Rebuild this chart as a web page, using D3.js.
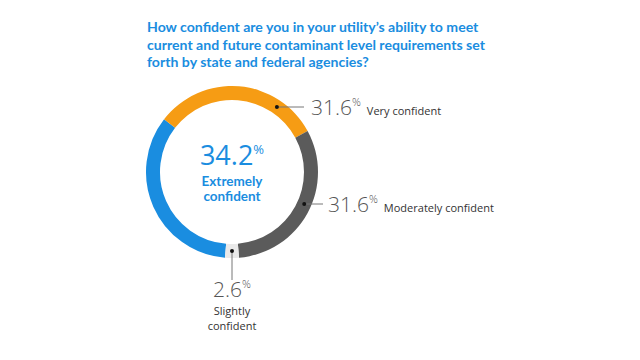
<!DOCTYPE html>
<html><head><meta charset="utf-8">
<script src="https://cdn.jsdelivr.net/npm/d3@7"></script>
<style>body{margin:0;background:#fff}</style>
</head><body>
<svg id="c" width="640" height="360"></svg>
<script>
const categories = ["Extremely confident", "Very confident", "Moderately confident", "Slightly confident"];
const values = [34.2, 31.6, 31.6, 2.6];
const valueLabels = ["34.2", "31.6", "31.6", "2.6"];
const colors = ["#1a8de0", "#f69c14", "#5b5b5b", "#e9e9e9"];
const titleLines = [
  "How confident are you in your utility\u2019s ability to meet",
  "current and future contaminant level requirements set",
  "forth by state and federal agencies?"
];

const svg = d3.select("#c");
const cx = 232, cy = 172, rOuter = 86, rInner = 72, rMid = (rOuter + rInner) / 2;

// title
const title = svg.append("text").attr("fill", "#1a8de0")
  .attr("font-family", "Lato, 'Open Sans', sans-serif").attr("font-weight", 700).attr("font-size", 14.1);
titleLines.forEach((t, i) => {
  title.append("tspan").attr("x", 147).attr("y", 32 + i * 17.5).text(t);
});

const total = d3.sum(values);
const slightFrac = values[3] / total;
const start = Math.PI + slightFrac * Math.PI; // centre the small slice at the bottom
const pie = d3.pie().sort(null).value(d => d).startAngle(start).endAngle(start + 2 * Math.PI);
const arcs = pie(values);
const arc = d3.arc().innerRadius(rInner).outerRadius(rOuter);
const g = svg.append("g").attr("transform", `translate(${cx},${cy})`);
g.selectAll("path").data(arcs).join("path").attr("d", arc).attr("fill", (d, i) => colors[i]);

// center label
const numFont = "'Open Sans', 'Noto Sans', sans-serif";
const catFont = "Lato, 'Open Sans', sans-serif";
const ct = svg.append("text").attr("x", cx).attr("y", 165).attr("text-anchor", "middle")
  .attr("fill", "#1a8de0").attr("font-family", numFont);
ct.append("tspan").attr("font-size", 27).attr("font-weight", 400).text(valueLabels[0]);
ct.append("tspan").attr("font-size", 13).attr("dy", -11).text("%");
const cl = svg.append("text").attr("text-anchor", "middle")
  .attr("fill", "#1a8de0").attr("font-family", catFont).attr("font-weight", 700).attr("font-size", 13.5);
["Extremely", "confident"].forEach((t, i) => {
  cl.append("tspan").attr("x", cx).attr("y", 185.5 + i * 15.5).text(t);
});

// right side labels
const rightLabels = [
  {i: 1, y: 107, lineEnd: 304, tx: 311},
  {i: 2, y: 204, lineEnd: 323, tx: 328}
];
rightLabels.forEach(L => {
  const dy = L.y - cy;
  const dx = Math.sqrt(rMid * rMid - dy * dy);
  const x0 = cx + dx;
  svg.append("line").attr("x1", x0).attr("x2", L.lineEnd).attr("y1", L.y).attr("y2", L.y)
    .attr("stroke", "#777").attr("stroke-width", 1);
  svg.append("circle").attr("cx", x0).attr("cy", L.y).attr("r", 2).attr("fill", "#111");
  const t = svg.append("text").attr("x", L.tx).attr("y", L.y + 8).attr("fill", "#555").attr("font-family", numFont);
  t.append("tspan").attr("font-size", 21).attr("font-weight", 300).text(valueLabels[L.i]);
  t.append("tspan").attr("font-size", 11).attr("font-weight", 300).attr("dy", -9).text("%");
  t.append("tspan").attr("font-size", 11).attr("fill", "#333").attr("dy", 9).attr("dx", 6).text(categories[L.i]);
});

// bottom label
const c3 = arc.centroid(arcs[3]);
const bx = cx + c3[0], by = cy + c3[1];
svg.append("line").attr("x1", bx).attr("x2", bx).attr("y1", by).attr("y2", 280).attr("stroke", "#777");
svg.append("circle").attr("cx", bx).attr("cy", by).attr("r", 2).attr("fill", "#111");
const bt = svg.append("text").attr("x", bx).attr("y", 297).attr("text-anchor", "middle").attr("fill", "#555").attr("font-family", numFont);
bt.append("tspan").attr("font-size", 21).attr("font-weight", 300).text(valueLabels[3]);
bt.append("tspan").attr("font-size", 11).attr("font-weight", 300).attr("dy", -9).text("%");
const bl = svg.append("text").attr("text-anchor", "middle")
  .attr("fill", "#333").attr("font-family", numFont).attr("font-size", 11);
["Slightly", "confident"].forEach((t, i) => {
  bl.append("tspan").attr("x", bx).attr("y", 315 + i * 14.8).text(t);
});
</script>
</body></html>
